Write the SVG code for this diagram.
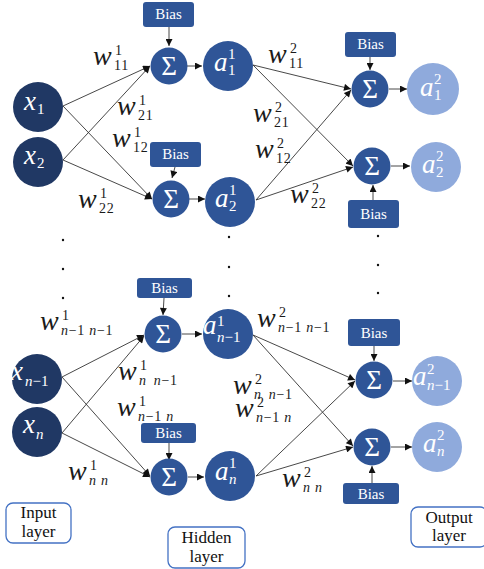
<svg xmlns="http://www.w3.org/2000/svg" width="484" height="569" viewBox="0 0 484 569">
<defs>
<marker id="ah" viewBox="0 0 10 10" refX="10" refY="5" markerWidth="8" markerHeight="7" orient="auto" markerUnits="userSpaceOnUse"><path d="M0,0 L10,5 L0,10 z" fill="#111"/></marker>
<style>
.in{fill:#203864}
.hid{fill:#2F5597}
.out{fill:#8FAADC}
.bias{fill:#2F5597}
.bt{font-family:"Liberation Serif",serif;font-size:15px;fill:#fff;text-anchor:middle}
.sg{font-family:"Liberation Serif",serif;font-size:27px;fill:#fff;text-anchor:middle}
.ml{font-family:"Liberation Serif",serif;font-style:italic;font-size:27px;fill:#fff}
.ms{font-family:"Liberation Serif",serif;font-size:15px;fill:#fff}
.wl{font-family:"Liberation Serif",serif;font-style:italic;font-size:28px;fill:#1a1a1a}
.ws{font-family:"Liberation Serif",serif;font-size:14px;fill:#1a1a1a;letter-spacing:0.7px}
.it{font-style:italic}
.lay{fill:#fff;stroke:#4472C4;stroke-width:1.3}
.lt{font-family:"Liberation Serif",serif;font-size:17px;fill:#111;text-anchor:middle}
.c line{stroke:#333;stroke-width:0.9;marker-end:url(#ah)}
.dot{fill:#111}
</style>
</defs>

<g id="connectors" class="c">
<line x1="63" y1="106" x2="150" y2="66"/>
<line x1="63" y1="106" x2="152" y2="199"/>
<line x1="63" y1="160" x2="150" y2="66"/>
<line x1="63" y1="160" x2="152" y2="199"/>
<line x1="187" y1="66" x2="202" y2="66"/>
<line x1="189" y1="199" x2="205" y2="199"/>
<line x1="253" y1="65" x2="351" y2="89"/>
<line x1="253" y1="65" x2="353" y2="166"/>
<line x1="256" y1="200" x2="351" y2="90"/>
<line x1="256" y1="200" x2="353" y2="167"/>
<line x1="389" y1="89" x2="407" y2="89"/>
<line x1="391" y1="166" x2="410" y2="166"/>
<line x1="62" y1="377" x2="144" y2="335"/>
<line x1="62" y1="377" x2="150" y2="476"/>
<line x1="62" y1="433" x2="144" y2="336"/>
<line x1="62" y1="433" x2="150" y2="477"/>
<line x1="182" y1="334" x2="202" y2="334"/>
<line x1="188" y1="477" x2="204" y2="477"/>
<line x1="253" y1="335" x2="355" y2="380"/>
<line x1="253" y1="335" x2="353" y2="446"/>
<line x1="256" y1="476" x2="355" y2="381"/>
<line x1="256" y1="476" x2="353" y2="447"/>
<line x1="393" y1="381" x2="412" y2="381"/>
<line x1="391" y1="447" x2="412" y2="447"/>
<line x1="169" y1="27" x2="169" y2="46"/>
<line x1="175" y1="167" x2="172" y2="178"/>
<line x1="164" y1="298" x2="163" y2="315"/>
<line x1="169" y1="443" x2="169" y2="460"/>
<line x1="370" y1="57" x2="370" y2="70"/>
<line x1="373" y1="200" x2="373" y2="185"/>
<line x1="374" y1="346" x2="374" y2="361"/>
<line x1="372" y1="483" x2="372" y2="466"/>
</g>

<g id="dots">
<circle class="dot" cx="63" cy="240" r="1.2"/><circle class="dot" cx="63" cy="269" r="1.2"/><circle class="dot" cx="63" cy="298" r="1.2"/>
<circle class="dot" cx="229" cy="237" r="1.2"/><circle class="dot" cx="229" cy="267" r="1.2"/><circle class="dot" cx="229" cy="296" r="1.2"/>
<circle class="dot" cx="378" cy="236" r="1.2"/><circle class="dot" cx="378" cy="265" r="1.2"/><circle class="dot" cx="378" cy="293" r="1.2"/>
</g>

<g id="x1"><circle class="in" cx="38" cy="107" r="25"/><text class="ml" x="24" y="110">x</text><text class="ms" x="37" y="114">1</text></g>
<g id="x2"><circle class="in" cx="38" cy="162" r="25"/><text class="ml" x="24" y="164">x</text><text class="ms" x="37" y="168">2</text></g>
<g id="xn1"><circle class="in" cx="37" cy="379" r="25"/><text class="ml" x="11" y="380">x</text><text class="ms" x="25" y="386"><tspan class="it">n</tspan>−1</text></g>
<g id="xn"><circle class="in" cx="37" cy="432" r="25"/><text class="ml" x="23" y="433">x</text><text class="ms it" x="36" y="439">n</text></g>

<g id="s1"><circle class="hid" cx="169" cy="66" r="18.5"/><text class="sg" x="169" y="75">Σ</text></g>
<g id="s2"><circle class="hid" cx="171" cy="199" r="18.5"/><text class="sg" x="171" y="208">Σ</text></g>
<g id="s3"><circle class="hid" cx="163" cy="334" r="18.5"/><text class="sg" x="163" y="343">Σ</text></g>
<g id="s4"><circle class="hid" cx="169" cy="477" r="18.5"/><text class="sg" x="169" y="486">Σ</text></g>

<g id="a1"><circle class="hid" cx="228" cy="66" r="25"/><text class="ml" x="214" y="71">a</text><text class="ms" x="228" y="59">1</text><text class="ms" x="228" y="75">1</text></g>
<g id="a2"><circle class="hid" cx="230" cy="202" r="25"/><text class="ml" x="215" y="207">a</text><text class="ms" x="229" y="195">1</text><text class="ms" x="229" y="211">2</text></g>
<g id="a3"><circle class="hid" cx="228" cy="334" r="25"/><text class="ml" x="203" y="334">a</text><text class="ms" x="217" y="326">1</text><text class="ms" x="217" y="342"><tspan class="it">n</tspan>−1</text></g>
<g id="a4"><circle class="hid" cx="230" cy="476" r="25"/><text class="ml" x="215" y="480">a</text><text class="ms" x="229" y="468">1</text><text class="ms it" x="229" y="484">n</text></g>

<g id="o1"><circle class="hid" cx="370" cy="89" r="18.5"/><text class="sg" x="370" y="98">Σ</text></g>
<g id="o2"><circle class="hid" cx="372" cy="166" r="18.5"/><text class="sg" x="372" y="175">Σ</text></g>
<g id="o3"><circle class="hid" cx="374" cy="380" r="18.5"/><text class="sg" x="374" y="389">Σ</text></g>
<g id="o4"><circle class="hid" cx="372" cy="447" r="18.5"/><text class="sg" x="372" y="456">Σ</text></g>

<g id="b1"><circle class="out" cx="433" cy="89" r="26"/><text class="ml" x="420" y="96">a</text><text class="ms" x="434" y="84">2</text><text class="ms" x="434" y="100">1</text></g>
<g id="b2"><circle class="out" cx="436" cy="167" r="25"/><text class="ml" x="422" y="173">a</text><text class="ms" x="436" y="161">2</text><text class="ms" x="436" y="177">2</text></g>
<g id="b3"><circle class="out" cx="437" cy="381" r="25"/><text class="ml" x="413" y="385">a</text><text class="ms" x="427" y="374">2</text><text class="ms" x="427" y="390"><tspan class="it">n</tspan>−1</text></g>
<g id="b4"><circle class="out" cx="437" cy="447" r="25"/><text class="ml" x="423" y="452">a</text><text class="ms" x="437" y="440">2</text><text class="ms it" x="437" y="456">n</text></g>

<g id="bias1"><rect class="bias" x="143" y="2" width="51" height="25" rx="3"/><text class="bt" x="168.5" y="19">Bias</text></g>
<g id="bias2"><rect class="bias" x="150" y="142" width="51" height="25" rx="3"/><text class="bt" x="175.5" y="159">Bias</text></g>
<g id="bias3"><rect class="bias" x="137" y="278" width="55" height="20" rx="3"/><text class="bt" x="164.5" y="293">Bias</text></g>
<g id="bias4"><rect class="bias" x="141" y="423" width="55" height="20" rx="3"/><text class="bt" x="168.5" y="438">Bias</text></g>
<g id="bias5"><rect class="bias" x="345" y="32" width="51" height="25" rx="3"/><text class="bt" x="370.5" y="49">Bias</text></g>
<g id="bias6"><rect class="bias" x="348" y="200" width="51" height="28" rx="3"/><text class="bt" x="373.5" y="219">Bias</text></g>
<g id="bias7"><rect class="bias" x="348" y="319" width="52" height="27" rx="3"/><text class="bt" x="374" y="338">Bias</text></g>
<g id="bias8"><rect class="bias" x="343" y="483" width="56" height="21" rx="3"/><text class="bt" x="371" y="499">Bias</text></g>

<g id="weights">
<text class="wl" x="93" y="65">w</text><text class="ws" x="115" y="55">1</text><text class="ws" x="114" y="70">11</text>
<text class="wl" x="117" y="115">w</text><text class="ws" x="139" y="105">1</text><text class="ws" x="138" y="120">21</text>
<text class="wl" x="112" y="147">w</text><text class="ws" x="134" y="137">1</text><text class="ws" x="133" y="152">12</text>
<text class="wl" x="78" y="208">w</text><text class="ws" x="100" y="198">1</text><text class="ws" x="99" y="213">22</text>
<text class="wl" x="268" y="63">w</text><text class="ws" x="290" y="53">2</text><text class="ws" x="289" y="68">11</text>
<text class="wl" x="253" y="122">w</text><text class="ws" x="275" y="112">2</text><text class="ws" x="274" y="127">21</text>
<text class="wl" x="255" y="158">w</text><text class="ws" x="277" y="148">2</text><text class="ws" x="276" y="163">12</text>
<text class="wl" x="290" y="203">w</text><text class="ws" x="312" y="193">2</text><text class="ws" x="311" y="208">22</text>
<text class="wl" x="40" y="330">w</text><text class="ws" x="62" y="320">1</text><text class="ws" x="61" y="335"><tspan class="it">n</tspan>−1 <tspan class="it">n</tspan>−1</text>
<text class="wl" x="118" y="380">w</text><text class="ws" x="140" y="370">1</text><text class="ws" x="139" y="385"><tspan class="it">n</tspan><tspan dx="7" class="it">n</tspan>−1</text>
<text class="wl" x="117" y="416">w</text><text class="ws" x="139" y="406">1</text><text class="ws" x="138" y="421"><tspan class="it">n</tspan>−1 <tspan class="it">n</tspan></text>
<text class="wl" x="68" y="480">w</text><text class="ws" x="90" y="470">1</text><text class="ws it" x="89" y="485">n n</text>
<text class="wl" x="257" y="327">w</text><text class="ws" x="279" y="317">2</text><text class="ws" x="278" y="332"><tspan class="it">n</tspan>−1 <tspan class="it">n</tspan>−1</text>
<text class="wl" x="233" y="394">w</text><text class="ws" x="255" y="384">2</text><text class="ws" x="254" y="399"><tspan class="it">n</tspan><tspan dx="7" class="it">n</tspan>−1</text>
<text class="wl" x="235" y="417">w</text><text class="ws" x="257" y="407">2</text><text class="ws" x="256" y="422"><tspan class="it">n</tspan>−1 <tspan class="it">n</tspan></text>
<text class="wl" x="282" y="487">w</text><text class="ws" x="304" y="477">2</text><text class="ws it" x="303" y="492">n n</text>
</g>

<g id="input-layer"><rect class="lay" x="6" y="503" width="65" height="40" rx="7"/><text class="lt" x="38.5" y="518">Input</text><text class="lt" x="38.5" y="537">layer</text></g>
<g id="hidden-layer"><rect class="lay" x="168" y="527" width="77" height="41" rx="7"/><text class="lt" x="206.5" y="543">Hidden</text><text class="lt" x="206.5" y="562">layer</text></g>
<g id="output-layer"><rect class="lay" x="411" y="507" width="76" height="40" rx="7"/><text class="lt" x="449" y="523">Output</text><text class="lt" x="449" y="541">layer</text></g>
</svg>
